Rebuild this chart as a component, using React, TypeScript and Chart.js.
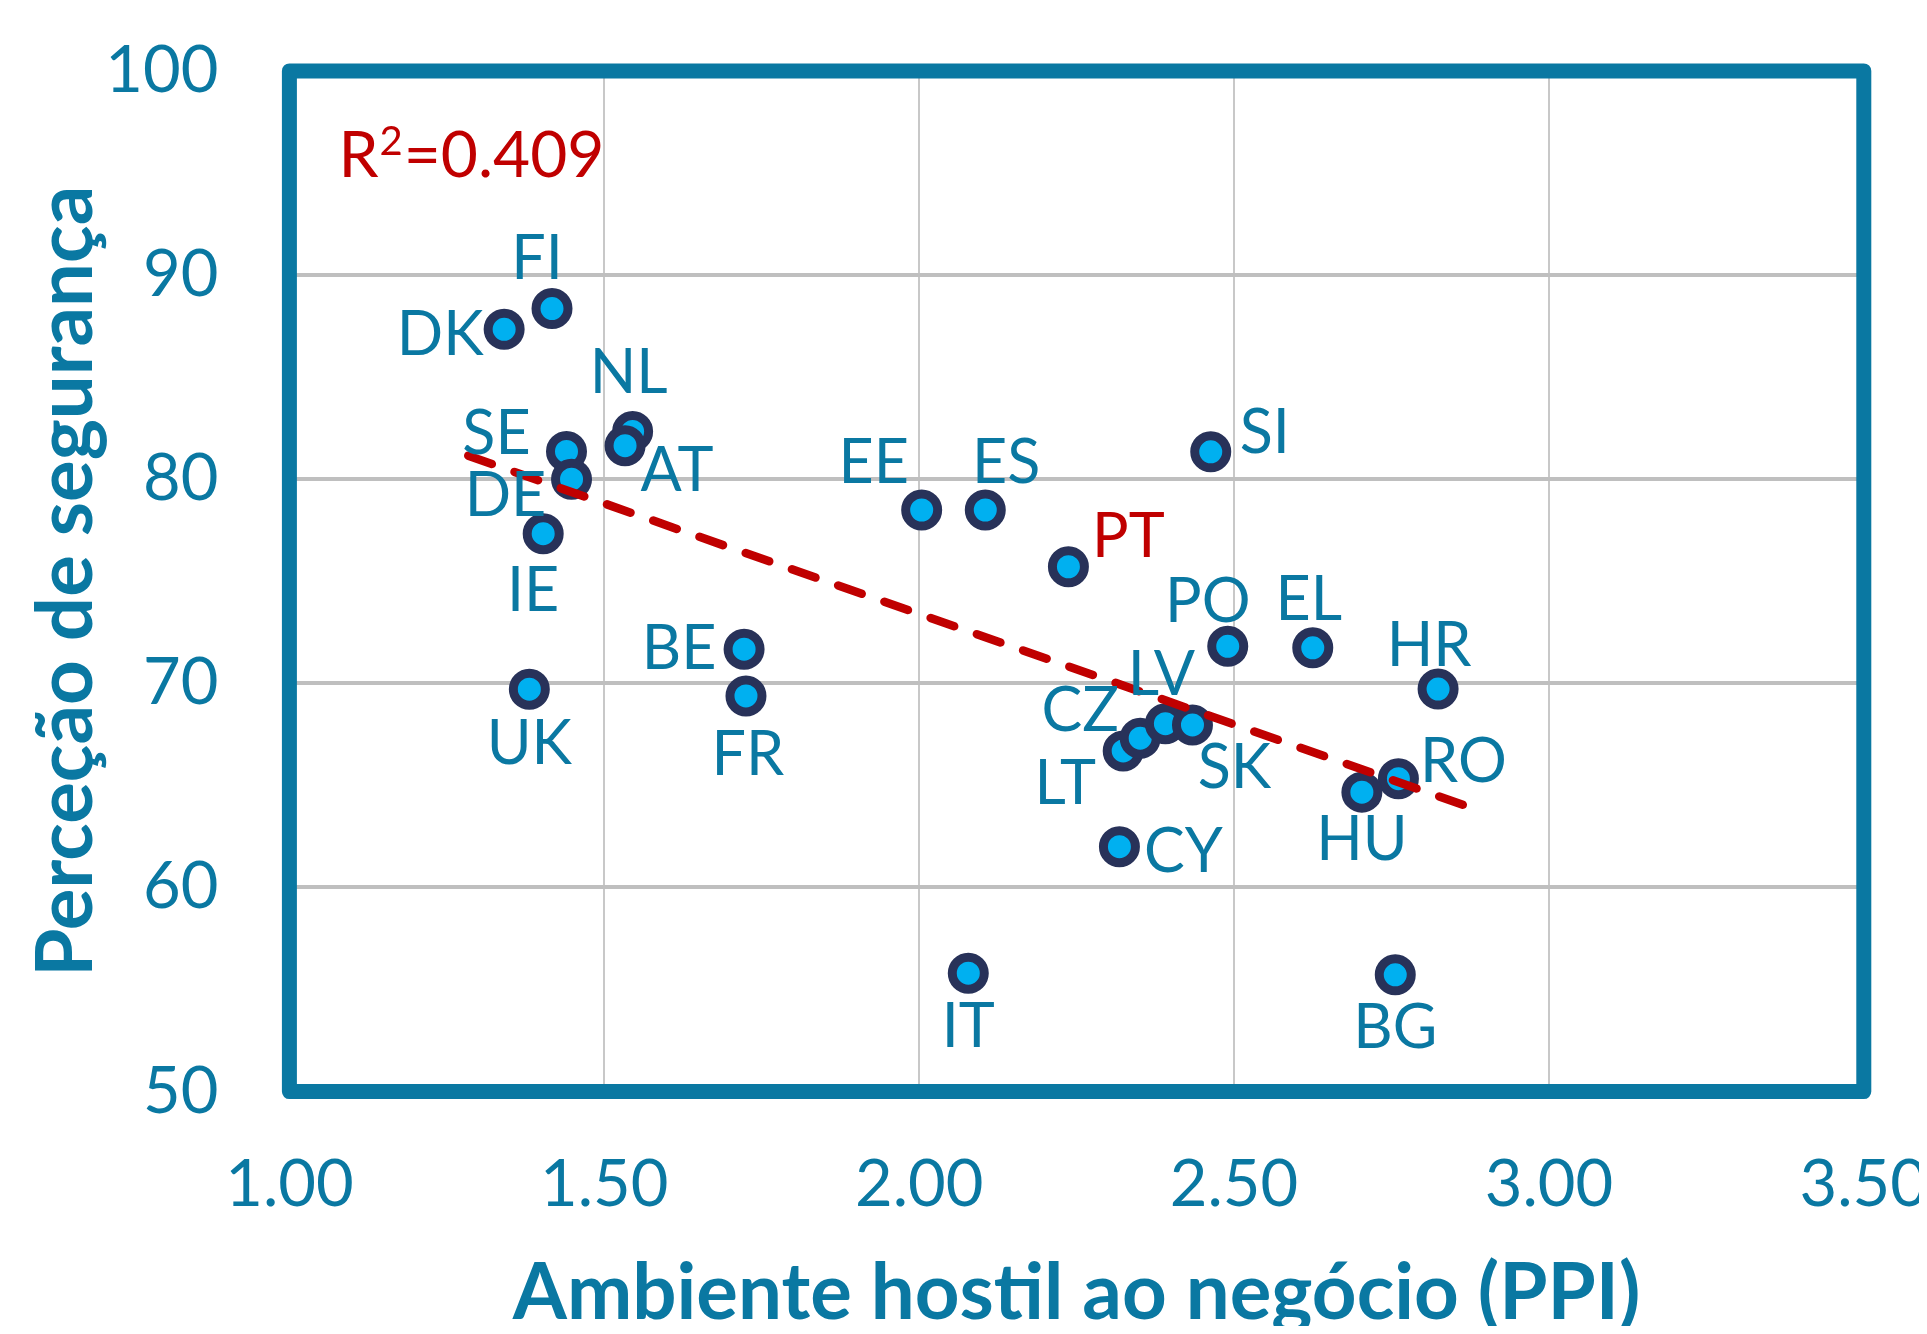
import React, { useEffect, useRef } from "react";
import { Chart, registerables } from "chart.js";

Chart.register(...registerables);

// ---- Data ----
const countries = ["FI", "DK", "NL", "AT", "SE", "DE", "IE", "UK", "BE", "FR", "EE", "ES", "IT", "PT", "SI", "PO", "EL", "HR", "RO", "HU", "BG", "CY", "LT", "CZ", "LV", "SK"];
const ppi = [1.417, 1.341, 1.545, 1.533, 1.44, 1.448, 1.403, 1.381, 1.722, 1.725, 2.004, 2.105, 2.078, 2.237, 2.463, 2.49, 2.625, 2.824, 2.761, 2.703, 2.756, 2.318, 2.324, 2.351, 2.391, 2.434];
const security = [88.36, 87.34, 82.34, 81.64, 81.36, 80.0, 77.33, 69.71, 71.67, 69.38, 78.49, 78.49, 55.8, 75.71, 81.34, 71.81, 71.74, 69.72, 65.33, 64.67, 55.72, 62.0, 66.69, 67.31, 68.02, 67.96];
const trendX = [1.284, 2.88];
const trendY = [81.15, 63.87];
const r2Parts = ["R", "2", "=0.409"];
const xTickValues = [1.0, 1.5, 2.0, 2.5, 3.0, 3.5];
const yTickValues = [50, 60, 70, 80, 90, 100];
const xTitle = "Ambiente hostil ao negócio (PPI)";
const yTitle = "Perceção de segurança";
const highlight = "PT";

// ---- Styling (label placement offsets in px, relative to point centre) ----
const labelOffsets: Record<string, [number, number]> = {
  FI: [-15, -49], DK: [-64, 6], NL: [-4, -58], AT: [52, 26], SE: [-70, -17], DE: [-66, 17],
  IE: [-10, 58], UK: [0, 55], BE: [-65, 0], FR: [2, 59], EE: [-48, -47], ES: [21, -47],
  IT: [0, 54], PT: [60, -29], SI: [54, -18], PO: [-20, -44], EL: [-4, -47], HR: [-9, -43],
  RO: [65, -16], HU: [0, 48], BG: [0, 53], CY: [64, 6], LT: [-58, 33], CZ: [-60, -27],
  LV: [-4, -48], SK: [42, 43],
};

const TEAL = "#0A78A2";
const RED = "#C00000";
const FONT = "Lato, 'Open Sans', sans-serif";

const CANVAS_H = 1318;
const AREA_LEFT = 281.4;
const AREA_TOP = 62.9;
const AREA_BOTTOM = 1083.6;
const AREA_RIGHT_PAD = 55.2;

const overlayPlugin = {
  id: "overlay",
  afterDatasetsDraw(chart: any) {
    const { ctx, chartArea } = chart;
    const meta = chart.getDatasetMeta(1);
    ctx.save();
    ctx.font = `61px ${FONT}`;
    ctx.textAlign = "center";
    ctx.textBaseline = "middle";
    meta.data.forEach((pt: any, i: number) => {
      const name = countries[i];
      const off = labelOffsets[name] || [0, -45];
      ctx.fillStyle = name === highlight ? RED : TEAL;
      ctx.fillText(name, pt.x + off[0], pt.y + off[1]);
    });
    // R² label (R, superscript 2, =0.409)
    ctx.textAlign = "left";
    ctx.textBaseline = "alphabetic";
    ctx.fillStyle = RED;
    let x = chartArea.left + 49;
    const base = chartArea.top + 106;
    ctx.font = `64px ${FONT}`;
    ctx.fillText(r2Parts[0], x, base);
    x += ctx.measureText(r2Parts[0]).width + 1;
    ctx.font = `40px ${FONT}`;
    ctx.fillText(r2Parts[1], x, base - 22);
    x += ctx.measureText(r2Parts[1]).width + 1;
    ctx.font = `64px ${FONT}`;
    ctx.fillText(r2Parts[2], x, base);
    ctx.restore();
  },
  afterDraw(chart: any) {
    const { ctx, chartArea } = chart;
    ctx.save();
    ctx.strokeStyle = TEAL;
    ctx.lineWidth = 15;
    ctx.lineJoin = "round";
    ctx.strokeRect(chartArea.left, chartArea.top, chartArea.right - chartArea.left, chartArea.bottom - chartArea.top);
    ctx.restore();
  },
};

export default function App() {
  const ref = useRef<HTMLCanvasElement | null>(null);

  useEffect(() => {
    if (!ref.current) return;
    const points = ppi.map((x, i) => ({ x, y: security[i] }));
    const trend = trendX.map((x, i) => ({ x, y: trendY[i] }));
    const chart = new Chart(ref.current, {
      type: "scatter",
      data: {
        datasets: [
          {
            label: "Tendência",
            data: trend,
            showLine: true,
            borderColor: RED,
            borderWidth: 8.5,
            borderDash: [25, 24],
            borderCapStyle: "round",
            pointRadius: 0,
            fill: false,
          } as any,
          {
            label: "Países",
            data: points,
            pointRadius: 16,
            pointHoverRadius: 16,
            pointBorderWidth: 9,
            borderWidth: 9,
            pointBackgroundColor: "#00B0F0",
            pointBorderColor: "#283259",
            backgroundColor: "#00B0F0",
            borderColor: "#283259",
          } as any,
        ],
      },
      options: {
        animation: false,
        responsive: true,
        maintainAspectRatio: false,
        layout: { padding: { top: AREA_TOP, right: AREA_RIGHT_PAD, left: 0, bottom: 0 } },
        plugins: {
          legend: { display: false },
          tooltip: { enabled: false },
        },
        scales: {
          x: {
            type: "linear",
            min: 1,
            max: 3.5,
            afterBuildTicks: (scale: any) => {
              scale.ticks = xTickValues.map((v) => ({ value: v }));
            },
            ticks: {
              color: TEAL,
              font: { family: FONT, size: 65 },
              padding: 54,
              maxRotation: 0,
              autoSkip: false,
              callback: (v: any) => Number(v).toFixed(2),
            },
            grid: { color: "#C8C8C8", lineWidth: 2, drawTicks: false },
            border: { display: false },
            title: {
              display: true,
              text: xTitle,
              color: TEAL,
              font: { family: FONT, size: 78, weight: "bold", lineHeight: 0.8 },
              padding: { top: 0, bottom: 1 },
            },
            afterFit: (scale: any) => {
              scale.height = CANVAS_H - AREA_BOTTOM;
              scale.paddingLeft = 0;
              scale.paddingRight = 0;
            },
          } as any,
          y: {
            type: "linear",
            min: 50,
            max: 100,
            afterBuildTicks: (scale: any) => {
              scale.ticks = yTickValues.map((v) => ({ value: v }));
            },
            ticks: {
              color: TEAL,
              font: { family: FONT, size: 65 },
              padding: 71,
              autoSkip: false,
            },
            grid: { color: "#BFBFBF", lineWidth: 4, drawTicks: false },
            border: { display: false },
            title: {
              display: true,
              text: yTitle,
              color: TEAL,
              font: { family: FONT, size: 78, weight: "bold", lineHeight: 1.2 },
              padding: { top: 12, bottom: 0 },
            },
            afterFit: (scale: any) => {
              scale.width = AREA_LEFT;
              scale.paddingTop = 0;
              scale.paddingBottom = 0;
            },
          } as any,
        },
      },
      plugins: [overlayPlugin],
    });
    return () => chart.destroy();
  }, []);

  return (
    <div style={{ position: "relative", width: "100%", height: CANVAS_H + "px" }}>
      <canvas ref={ref} />
    </div>
  );
}
